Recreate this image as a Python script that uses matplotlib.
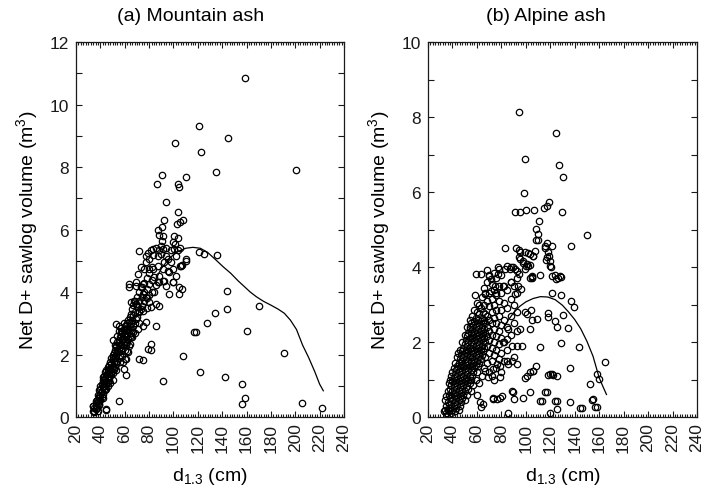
import numpy as np
import matplotlib
matplotlib.use("Agg")
import matplotlib.pyplot as plt
from matplotlib.ticker import MultipleLocator

plt.rcParams['font.family'] = ['Liberation Sans', 'DejaVu Sans']
plt.rcParams['mathtext.default'] = 'regular'

#--------- (a) Mountain ash: d1.3 (cm), volume (m3) ---------#
ma_core = [
    (34, 0.2), (34, 0.35), (35, 0.3), (35, 0.15), (36, 0.4), (36, 0.25), (36, 0.5),
    (37, 0.3), (37, 0.55), (38, 0.45), (38, 0.7), (38, 0.2), (39, 0.6), (39, 0.85),
    (39, 0.4), (40, 0.7), (40, 0.9), (40, 0.55), (40, 1.0), (41, 0.8), (41, 0.65),
    (41, 1.05), (42, 0.75), (42, 0.95), (42, 1.2), (42, 0.6), (43, 0.9), (43, 1.1),
    (43, 1.3), (44, 1.0), (44, 1.2), (44, 0.85), (44, 1.45), (45, 1.1), (45, 1.35),
    (45, 1.5), (46, 1.0), (46, 1.25), (46, 1.5), (46, 1.6), (47, 1.2), (47, 1.4),
    (47, 1.65), (48, 1.3), (48, 1.55), (48, 1.1), (48, 1.75), (49, 1.45), (49, 1.7),
    (49, 1.9), (50, 1.4), (50, 1.6), (50, 1.85), (50, 2.0), (50, 1.2), (51, 1.55),
    (51, 1.75), (51, 2.05), (52, 1.6), (52, 1.9), (52, 2.15), (52, 2.3), (53, 1.7),
    (53, 2.0), (53, 2.25), (53, 1.5), (54, 1.8), (54, 2.1), (54, 2.4), (54, 2.6),
    (55, 1.9), (55, 2.2), (55, 2.45), (55, 2.75), (56, 2.0), (56, 2.3), (56, 2.55),
    (56, 1.75), (57, 2.1), (57, 2.35), (57, 2.6), (57, 2.85), (58, 2.2), (58, 2.45),
    (58, 2.7), (58, 1.95), (59, 2.3), (59, 2.5), (59, 2.8), (59, 3.0), (60, 2.15),
    (60, 2.4), (60, 2.65), (60, 2.9), (60, 1.85), (61, 2.3), (61, 2.55), (61, 2.8),
    (62, 2.4), (62, 2.7), (62, 3.0), (62, 2.1), (63, 2.5), (63, 2.8), (63, 3.1),
    (64, 2.6), (64, 2.9), (64, 3.2), (64, 2.35), (65, 2.7), (65, 3.0), (65, 3.3),
    (66, 2.8), (66, 3.1), (66, 3.45), (66, 2.55), (67, 2.9), (67, 3.25), (67, 3.6),
    (68, 3.0), (68, 3.35), (68, 3.7), (68, 2.7), (70, 3.2), (70, 3.55), (70, 3.85),
    (72, 3.4), (72, 3.7), (72, 4.0), (72, 3.0), (74, 3.55), (74, 3.85), (74, 4.15),
    (76, 3.7), (76, 4.0), (76, 4.3), (78, 3.8), (78, 4.1), (78, 4.45), (78, 3.5),
    (80, 3.9), (80, 4.25), (80, 4.6), (82, 4.0), (82, 4.4), (82, 4.8),
]
ma_spread = [
    (33.7, 0.36), (36.4, 0.31), (35.1, 0.20), (39.2, 0.42), (44.6, 0.26), (37.8, 0.52),
    (55.0, 0.52), (40.5, 0.79), (41.9, 1.0), (43.3, 1.22), (41.9, 1.27), (44.6, 0.9),
    (39.2, 0.68), (46.0, 1.11), (47.4, 1.54), (46.0, 1.43), (48.7, 1.38), (50.1, 1.64),
    (52.8, 1.75), (51.5, 1.54), (50.1, 1.91), (54.2, 2.07), (52.8, 2.27), (55.6, 2.37),
    (58.3, 2.5), (56.9, 2.71), (59.7, 2.82), (61.0, 2.92), (63.8, 3.03), (55.6, 2.92),
    (52.8, 2.98), (50.1, 2.45), (58.3, 1.75), (61.0, 1.86), (62.4, 2.07), (63.8, 2.27),
    (65.2, 2.55), (66.5, 2.71), (59.7, 1.54), (61.0, 1.33), (72.0, 1.86), (74.7, 1.81),
    (78.8, 2.18), (81.6, 2.13), (69.3, 3.14), (72.0, 3.35), (74.7, 3.4), (70.6, 2.82),
    (74.7, 2.92), (77.5, 3.03), (65.2, 3.67), (67.9, 3.72), (69.3, 3.62), (70.6, 3.51),
    (73.4, 3.46), (63.8, 4.15), (69.3, 4.2), (73.4, 4.15), (74.7, 3.94), (77.5, 3.83),
    (80.2, 3.67), (81.6, 3.51), (85.7, 3.62), (88.4, 3.56), (84.3, 3.99), (87.0, 4.31),
    (91.2, 4.36), (96.6, 3.94), (99.4, 4.31), (104.8, 3.94), (107.0, 4.1), (85.7, 2.92),
    (81.6, 2.34), (91.7, 1.15), (108.0, 1.94), (117.0, 2.71),
]
ma_upper = [
    (90.6, 7.74), (86.2, 7.46), (103.5, 7.46), (104.8, 7.35), (110.3, 7.67), (93.9, 6.89),
    (103.5, 6.57), (92.5, 6.31), (107.6, 6.31), (105.4, 6.25), (102.6, 6.18), (90.6, 6.07),
    (87.0, 5.99), (88.4, 5.82), (91.7, 5.78), (90.6, 5.64), (89.8, 5.46), (100.7, 5.78),
    (103.5, 5.72), (101.6, 5.53), (99.4, 5.59), (71.5, 5.3), (78.8, 5.25), (81.6, 5.35),
    (83.5, 5.38), (85.7, 5.4), (88.4, 5.35), (91.2, 5.38), (93.9, 5.4), (98.0, 5.35),
    (100.7, 5.38), (103.5, 5.35), (105.4, 5.4), (110.3, 5.06), (107.0, 4.86), (77.5, 5.16),
    (79.7, 5.06), (82.9, 5.18), (87.0, 5.16), (89.8, 5.22), (93.9, 5.16), (95.3, 5.06),
    (98.0, 4.95), (102.1, 5.16), (92.5, 4.95), (70.6, 4.58), (76.1, 4.74), (80.2, 4.74),
    (82.9, 4.74), (87.0, 4.84), (91.2, 4.74), (95.3, 4.68), (99.4, 4.74), (77.5, 4.95),
    (73.4, 4.79), (84.3, 4.47), (88.4, 4.52), (92.5, 4.36), (96.6, 4.63), (102.1, 4.52),
    (106.2, 4.84), (63.8, 4.26), (69.3, 4.31), (74.7, 4.26), (85.7, 4.22), (88.4, 4.31),
    (93.9, 4.2), (99.4, 4.31), (104.8, 4.15), (121.0, 5.27), (124.8, 5.22), (136.0, 5.18),
    (110.0, 5.0), (105.4, 4.84),
]
ma_outer = [
    (159.0, 10.85), (121.0, 9.3), (144.5, 8.94), (101.5, 8.78), (122.9, 8.49),
    (200.9, 7.91), (134.9, 7.83), (143.7, 4.04), (143.7, 3.46), (134.0, 3.32),
    (127.8, 3.01), (170.3, 3.56), (118.5, 2.71), (160.6, 2.74), (190.8, 2.05),
    (121.8, 1.43), (142.6, 1.27), (156.5, 1.06), (158.8, 0.62), (156.5, 0.43),
    (205.5, 0.45), (222.2, 0.28), (44.4, 0.23),
]
ma_curve_d = [86, 90, 95, 100, 105, 110, 116, 122, 128, 135, 141, 147, 153, 158,
              163, 168, 174, 180, 186, 191, 196, 201, 206, 211, 216, 220, 223]
ma_curve_v = [4.45, 4.75, 5.0, 5.2, 5.32, 5.4, 5.43, 5.4, 5.27, 5.02, 4.8, 4.6, 4.36,
              4.18, 4.0, 3.85, 3.7, 3.58, 3.45, 3.32, 3.1, 2.8, 2.3, 1.9, 1.45, 1.05, 0.84]

#--------- (b) Alpine ash ---------#
aa_core = [
    (33, 0.15), (34, 0.2), (34, 0.45), (35, 0.1), (35, 0.3), (35, 0.55), (36, 0.2),
    (36, 0.4), (36, 0.7), (37, 0.15), (37, 0.35), (37, 0.6), (37, 0.9), (38, 0.25),
    (38, 0.5), (38, 0.75), (38, 1.0), (39, 0.1), (39, 0.35), (39, 0.6), (39, 0.85),
    (39, 1.1), (40, 0.2), (40, 0.45), (40, 0.7), (40, 0.95), (40, 1.2), (41, 0.3),
    (41, 0.55), (41, 0.8), (41, 1.05), (41, 1.3), (42, 0.15), (42, 0.4), (42, 0.65),
    (42, 0.9), (42, 1.15), (42, 1.45), (43, 0.25), (43, 0.5), (43, 0.75), (43, 1.0),
    (43, 1.25), (44, 0.35), (44, 0.6), (44, 0.85), (44, 1.1), (44, 1.35), (44, 1.6),
    (45, 0.2), (45, 0.45), (45, 0.7), (45, 0.95), (45, 1.2), (45, 1.45), (46, 0.3),
    (46, 0.55), (46, 0.8), (46, 1.05), (46, 1.3), (46, 1.55), (46, 1.8), (47, 0.4),
    (47, 0.65), (47, 0.9), (47, 1.15), (47, 1.4), (47, 1.65), (48, 0.5), (48, 0.75),
    (48, 1.0), (48, 1.25), (48, 1.5), (48, 1.75), (48, 2.0), (49, 0.6), (49, 0.85),
    (49, 1.1), (49, 1.35), (49, 1.6), (49, 1.85), (50, 0.45), (50, 0.7), (50, 0.95),
    (50, 1.2), (50, 1.45), (50, 1.7), (50, 1.95), (50, 2.2), (51, 0.8), (51, 1.05),
    (51, 1.3), (51, 1.55), (51, 1.8), (51, 2.05), (52, 0.6), (52, 0.9), (52, 1.15),
    (52, 1.4), (52, 1.65), (52, 1.9), (52, 2.15), (52, 2.4), (53, 0.75), (53, 1.0),
    (53, 1.25), (53, 1.5), (53, 1.75), (53, 2.0), (53, 2.25), (54, 0.9), (54, 1.1),
    (54, 1.35), (54, 1.6), (54, 1.85), (54, 2.1), (54, 2.35), (54, 2.6), (55, 0.7),
    (55, 1.0), (55, 1.25), (55, 1.5), (55, 1.75), (55, 2.0), (55, 2.25), (55, 2.5),
    (56, 1.1), (56, 1.35), (56, 1.6), (56, 1.85), (56, 2.1), (56, 2.35), (56, 2.7),
    (57, 0.85), (57, 1.2), (57, 1.45), (57, 1.7), (57, 1.95), (57, 2.2), (57, 2.45),
    (58, 1.3), (58, 1.55), (58, 1.8), (58, 2.05), (58, 2.3), (58, 2.55), (58, 2.85),
    (59, 1.0), (59, 1.4), (59, 1.65), (59, 1.9), (59, 2.15), (59, 2.4), (59, 2.65),
    (60, 0.6), (60, 1.2), (60, 1.5), (60, 1.75), (60, 2.0), (60, 2.25), (60, 2.5),
    (60, 2.8), (60, 3.05), (61, 1.35), (61, 1.6), (61, 1.85), (61, 2.1), (61, 2.35),
    (61, 2.6), (62, 0.9), (62, 1.45), (62, 1.7), (62, 1.95), (62, 2.2), (62, 2.45),
    (62, 2.75), (62, 3.0), (63, 1.55), (63, 1.8), (63, 2.05), (63, 2.3), (63, 2.55),
    (63, 2.9), (64, 1.1), (64, 1.65), (64, 1.9), (64, 2.15), (64, 2.4), (64, 2.65),
    (64, 3.2), (65, 0.35), (65, 1.75), (65, 2.0), (65, 2.25), (65, 2.5), (65, 2.8),
    (66, 1.3), (66, 1.85), (66, 2.1), (66, 2.35), (66, 2.6), (66, 3.0), (66, 3.45),
    (67, 1.6), (67, 2.0), (67, 2.25), (67, 2.5), (67, 2.75), (68, 1.45), (68, 1.9),
    (68, 2.15), (68, 2.4), (68, 2.7), (68, 3.1), (68, 3.6), (70, 1.2), (70, 1.7),
    (70, 2.05), (70, 2.3), (70, 2.6), (70, 2.95), (70, 3.3), (70, 3.8), (72, 1.5),
    (72, 1.85), (72, 2.2), (72, 2.5), (72, 2.8), (72, 3.15), (72, 3.55), (74, 1.0),
    (74, 1.65), (74, 2.0), (74, 2.35), (74, 2.65), (74, 3.0), (74, 3.4), (74, 3.85),
    (76, 1.3), (76, 1.8), (76, 2.15), (76, 2.5), (76, 2.85), (76, 3.25), (76, 3.7),
    (78, 1.55), (78, 1.95), (78, 2.3), (78, 2.7), (78, 3.1), (78, 3.5), (78, 3.95),
    (80, 1.2), (80, 1.7), (80, 2.1), (80, 2.45), (80, 2.85), (80, 3.3), (80, 3.8),
    (82, 1.5), (82, 2.0), (82, 2.6), (82, 3.05), (82, 3.5), (85, 1.8), (85, 2.4),
    (85, 2.9), (85, 3.4), (88, 2.2), (88, 2.7), (88, 3.15), (88, 3.6), (90, 1.6),
    (90, 2.5), (90, 3.0), (90, 3.5), (93, 2.8), (93, 3.3), (93, 3.7),
]
aa_upper = [
    (94.7, 8.14), (124.4, 7.58), (99.3, 6.87), (127.1, 6.72), (130.4, 6.39), (98.3, 5.98),
    (118.7, 5.74), (117.6, 5.62), (91.4, 5.48), (95.2, 5.48), (100.1, 5.51), (106.6, 5.51),
    (115.1, 5.57), (129.6, 5.47), (110.5, 5.24), (108.1, 5.01), (110.2, 4.88), (108.1, 4.73),
    (110.0, 4.73), (150.0, 4.85), (83.2, 4.51), (92.0, 4.5), (94.7, 4.46), (101.5, 4.37),
    (106.1, 4.3), (117.6, 4.63), (121.2, 4.55), (116.0, 4.55), (137.0, 4.55), (115.7, 4.5),
    (118.4, 4.39), (117.6, 4.26), (116.5, 4.2), (119.8, 4.03), (120.4, 3.99), (111.6, 3.79),
    (123.9, 3.79), (124.7, 3.68), (128.5, 3.73), (104.8, 3.73), (95.0, 4.39), (94.2, 4.26),
    (97.7, 4.12), (100.4, 4.03), (99.1, 3.96), (103.2, 4.05), (103.2, 3.70), (105.1, 3.76),
    (59.5, 3.81), (63.6, 3.81), (68.5, 3.93), (69.6, 3.77), (71.8, 3.68), (77.3, 3.99),
    (77.3, 3.81), (82.7, 3.95), (87.6, 3.99), (91.4, 3.95), (88.2, 3.59), (93.6, 3.5),
    (81.3, 3.5), (74.5, 3.5), (71.8, 3.37), (58.2, 3.25), (66.3, 3.28), (75.9, 3.32),
    (90.9, 3.28), (96.3, 3.41),
]
aa_lower = [
    (164.8, 1.46), (158.0, 1.15), (160.1, 1.01), (152.5, 0.88), (155.2, 0.48), (158.0, 0.27),
    (145.7, 0.23), (136.1, 0.41), (125.2, 0.21), (119.8, 0.11), (123.9, 0.44), (125.2, 0.44),
    (113.0, 0.44), (111.6, 0.44), (115.7, 0.66), (117.6, 0.68), (103.4, 0.66), (97.9, 0.51),
    (89.8, 0.66), (88.5, 0.7), (90.3, 0.48), (85.7, 0.12), (80.3, 0.57), (76.2, 0.48),
    (73.4, 0.52), (119.8, 1.15), (122.5, 1.12), (125.2, 1.1), (118.4, 1.12), (108.1, 1.37),
    (106.1, 1.24), (103.4, 1.19), (100.7, 1.1), (99.3, 1.03), (111.6, 1.86), (128.5, 1.97),
    (143.8, 1.86), (136.1, 1.32), (134.7, 2.37), (125.2, 2.39), (123.9, 2.57), (118.4, 2.77),
    (118.4, 2.68), (121.7, 3.31), (128.8, 3.25), (130.6, 2.73), (137.0, 3.1), (139.4, 2.93),
    (109.4, 2.61), (104.8, 2.59), (103.4, 2.35), (104.0, 2.85), (101.0, 2.75), (99.0, 2.8),
    (95.2, 2.35), (92.5, 2.3), (96.6, 1.9), (93.1, 1.9), (88.5, 1.9), (84.4, 2.08),
    (81.6, 1.99), (85.7, 2.35), (84.4, 1.5), (88.5, 1.5), (92.5, 1.41), (85.7, 1.41),
    (78.9, 1.37), (76.2, 1.41), (73.4, 1.28), (72.1, 1.1), (69.3, 1.06), (66.6, 1.23),
    (78.9, 1.06), (128.0, 3.77), (126.6, 3.72), (121.2, 3.77), (104.8, 3.72), (102.0, 4.03),
    (100.7, 4.08), (97.9, 4.15), (95.2, 4.21), (99.3, 4.39), (103.4, 4.35), (105.6, 4.3),
    (107.5, 4.43), (119.2, 4.3), (119.8, 4.17), (84.4, 4.03), (87.1, 3.95), (89.8, 3.99),
    (92.5, 3.9), (94.7, 3.81), (66.3, 3.32), (54.1, 2.39), (44.5, 1.72), (47.3, 1.5),
    (73.2, 0.48), (78.6, 0.52), (63.6, 0.26), (62.3, 0.39), (156.7, 0.26), (153.9, 0.46),
    (144.0, 0.23), (106.1, 1.24), (121.2, 1.16),
]
aa_curve_d = [82, 86, 90, 95, 100, 106, 112, 118, 124, 130, 135, 140, 145, 150,
              155, 160, 163, 166]
aa_curve_v = [2.4, 2.6, 2.78, 2.95, 3.07, 3.16, 3.21, 3.2, 3.13, 2.98, 2.8, 2.6,
              2.35, 2.02, 1.62, 1.05, 0.82, 0.6]


def draw_panel(ax, groups, curve_d, curve_v, ymax):
    for pts in groups:
        pts = np.array(pts)
        ax.plot(pts[:, 0], pts[:, 1], 'o', mfc='none', mec='black', ms=4.6, mew=0.9)
    ax.plot(curve_d, curve_v, color='black', lw=0.9)

    ax.set_xlim(20, 240)
    ax.set_ylim(0, ymax)
    ax.xaxis.set_major_locator(MultipleLocator(20))
    ax.xaxis.set_minor_locator(MultipleLocator(2))
    ax.yaxis.set_major_locator(MultipleLocator(2))
    ax.yaxis.set_minor_locator(MultipleLocator(1))
    ax.tick_params(which='both', direction='in', top=True, right=True,
                   labelsize=12.5, width=0.8, colors='#1a1a1a')
    ax.tick_params(axis='x', which='major', length=4, rotation=90, pad=4)
    ax.tick_params(axis='x', which='minor', length=2)
    ax.tick_params(axis='y', which='both', length=4, pad=5)
    for s in ax.spines.values():
        s.set_linewidth(0.9)
        s.set_color('#1a1a1a')
    ax.set_xlabel('d$_{1.3}$ (cm)', fontsize=14, labelpad=10)
    ax.set_ylabel('Net D+ sawlog volume (m$^3$)', fontsize=14, labelpad=7)


fig = plt.figure(figsize=(7.2, 5.02), dpi=100)
ax1 = fig.add_axes([0.1056, 0.1673, 0.3722, 0.747])
ax2 = fig.add_axes([0.5944, 0.1673, 0.3736, 0.747])

draw_panel(ax1, [ma_core, ma_spread, ma_upper, ma_outer], ma_curve_d, ma_curve_v, 12)
draw_panel(ax2, [aa_core, aa_upper, aa_lower], aa_curve_d, aa_curve_v, 10)

fig.text(0.265, 0.968, '(a) Mountain ash', ha='center', va='center', fontsize=14)
fig.text(0.758, 0.968, '(b) Alpine ash', ha='center', va='center', fontsize=14)

fig.savefig('out.png', dpi=100)
